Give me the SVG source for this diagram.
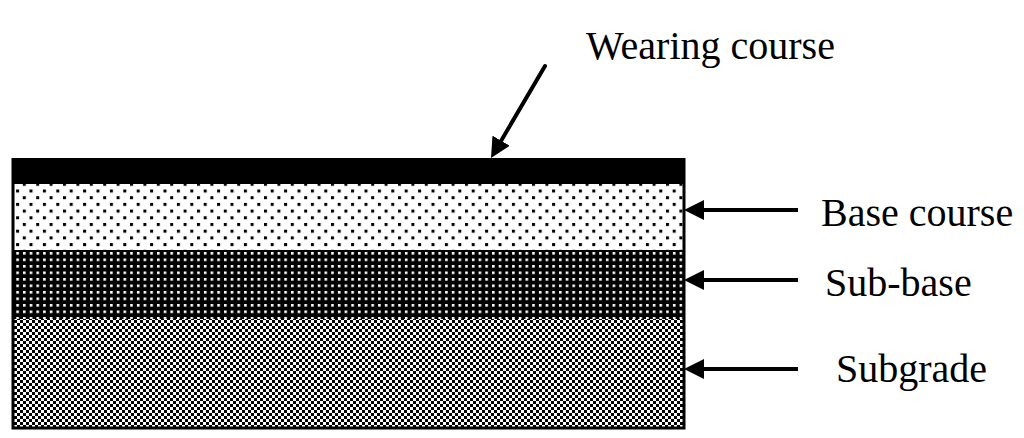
<svg xmlns="http://www.w3.org/2000/svg" width="1024" height="438" viewBox="0 0 1024 438">
  <style>
    .lbl { font-family: "Liberation Serif", "Times New Roman", serif; font-size: 40px; fill: #000; }
    .conn { stroke: #000; stroke-width: 4; fill: none; marker-end: url(#ah); }
  </style>
  <defs>
    <marker id="ah" markerUnits="userSpaceOnUse" viewBox="0 0 20 20" refX="4" refY="10" markerWidth="20" markerHeight="20" orient="auto">
      <path d="M0,0 L20,10 L0,20 Z" fill="#000"/>
    </marker>
    <pattern id="pBase" patternUnits="userSpaceOnUse" x="29.5" y="189.5" width="13.4" height="13.4">
      <rect width="13.4" height="13.4" fill="#fff"/>
      <rect x="0" y="0" width="3" height="3" fill="#000"/>
      <rect x="6.7" y="6.7" width="3" height="3" fill="#000"/>
    </pattern>
    <pattern id="pSub" patternUnits="userSpaceOnUse" x="23" y="252" width="6.7" height="6.5">
      <rect width="6.7" height="6.5" fill="#000"/>
      <rect x="0" y="0" width="2.6" height="2.6" fill="#fff"/>
    </pattern>
    <pattern id="pGrade" patternUnits="userSpaceOnUse" x="14" y="320" width="6" height="6">
      <rect width="6" height="6" fill="#fff"/>
      <rect x="0" y="0" width="3" height="3" fill="#000"/>
      <rect x="3" y="3" width="3" height="3" fill="#000"/>
    </pattern>
  </defs>

  <g id="subgrade">
    <rect x="13" y="319" width="671" height="109" fill="url(#pGrade)"/>
  </g>
  <g id="sub-base">
    <rect x="13" y="250" width="671" height="69" fill="url(#pSub)"/>
  </g>
  <g id="base-course">
    <rect x="13" y="184" width="671" height="66" fill="url(#pBase)"/>
  </g>
  <g id="wearing-course">
    <rect x="13" y="159" width="671" height="25" fill="#000"/>
  </g>
  <g id="outline">
    <rect x="13" y="159.5" width="671" height="268.5" fill="none" stroke="#000" stroke-width="3"/>
  </g>

  <g id="connectors">
    <line class="conn" x1="545" y1="66" x2="499.1" y2="144.2" style="stroke-linecap:round"/>
    <line class="conn" x1="798" y1="210" x2="700" y2="210"/>
    <line class="conn" x1="798" y1="280" x2="700" y2="280"/>
    <line class="conn" x1="798" y1="369" x2="700" y2="369"/>
  </g>

  <g id="labels">
    <text class="lbl" x="586" y="59">Wearing course</text>
    <text class="lbl" x="821" y="226">Base course</text>
    <text class="lbl" x="825" y="296">Sub-base</text>
    <text class="lbl" x="836" y="382">Subgrade</text>
  </g>
</svg>
